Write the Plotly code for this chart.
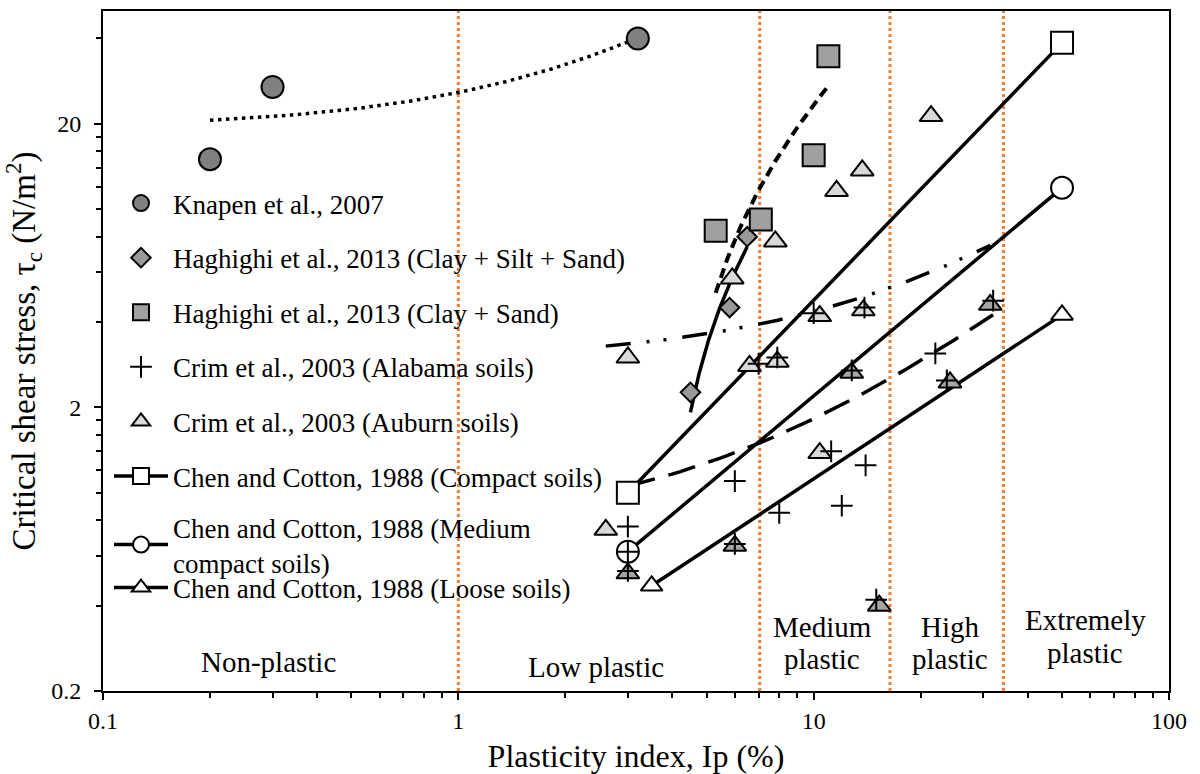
import numpy as np
import plotly.graph_objects as go

# ---------------- data ----------------
knapen_ip = [0.2, 0.3, 3.2]
knapen_tau = [15.0, 27.0, 40.0]

hag_css_ip = [4.5, 5.8, 6.5]          # Haghighi 2013 (Clay + Silt + Sand)
hag_css_tau = [2.26, 4.5, 8.0]

hag_cs_ip = [5.3, 7.1, 10.0, 11.0]    # Haghighi 2013 (Clay + Sand)
hag_cs_tau = [8.4, 9.2, 15.5, 34.6]

alabama_ip = [6.0, 3.0, 8.0, 12.0, 14.0, 11.2, 3.0, 3.0, 6.0, 15.0,
              10.0, 13.9, 7.9, 7.0, 12.8, 22.0, 32.0, 23.7]
alabama_tau = [1.1, 0.76, 0.85, 0.90, 1.25, 1.40, 0.62, 0.53, 0.66, 0.42,
               4.3, 4.5, 3.0, 2.85, 2.7, 3.1, 4.76, 2.49]

auburn_ip = [21.4, 13.7, 11.6, 7.8, 5.9, 3.0, 10.4, 13.8, 6.6, 7.9, 10.4, 2.6]
auburn_tau = [21.3, 13.7, 11.6, 7.7, 5.7, 3.0, 4.2, 4.4, 2.8, 2.9, 1.38, 0.74]
auburn_dark_ip = [12.8, 31.4, 24.2, 3.0, 6.0, 15.3]
auburn_dark_tau = [2.65, 4.6, 2.45, 0.52, 0.65, 0.40]

chen_compact_ip = [3.0, 50.0]
chen_compact_tau = [1.0, 38.6]
chen_medium_ip = [3.0, 50.0]
chen_medium_tau = [0.62, 11.9]
chen_loose_ip = [3.5, 50.0]
chen_loose_tau = [0.47, 4.24]

# linear trend lines (slope, intercept, ip_from, ip_to) as drawn in the reference
trend_knapen = [6.54, 19.27, 0.2, 3.2]
trend_hag_css = [2.725, -10.34, 4.5, 6.5]
trend_hag_cs = [3.888, -15.54, 5.3, 11.0]
trend_alabama = [0.110, 0.724, 3.0, 32.0]
trend_auburn = [0.1446, 2.914, 2.6, 31.4]

plasticity_bounds = [1, 7.05, 16.4, 34.2]
zone_labels = [["Non-plastic"], ["Low plastic"], ["Medium", "plastic"],
               ["High", "plastic"], ["Extremely", "plastic"]]

x_ticks = [0.1, 1, 10, 100]
y_ticks = [0.2, 2, 20]

# ---------------- geometry helpers ----------------
W, H = 1200, 774
L, R, T, B = 103, 1169, 11, 691


def px_x(p):
    return (p - L) / (R - L)


def px_y(p):
    return (B - p) / (B - T)


FONT = "Liberation Serif, Times New Roman, serif"
fig = go.Figure()


def trend(coef):
    a, b, x0, x1 = coef
    xs = np.linspace(x0, x1, 120)
    return xs, a * xs + b


# trend lines (no legend)
for coef, dash, w in [
    (trend_knapen, "3.5px,4.5px", 3.5),
    (trend_hag_css, "solid", 3.5),
    (trend_hag_cs, "10px,6px", 4),
    (trend_alabama, "28px,14px", 3.5),
    (trend_auburn, "25px,16px,3px,14px,3px,16px", 3.5),
]:
    xs, ys = trend(coef)
    fig.add_trace(go.Scatter(x=xs, y=ys, mode="lines", showlegend=False,
                             line=dict(color="black", width=w, dash=dash),
                             hoverinfo="skip"))

# Chen and Cotton lines
ln = dict(color="black", width=3.5)
fig.add_trace(go.Scatter(x=chen_compact_ip, y=chen_compact_tau, mode="lines+markers",
                         name="Chen and Cotton, 1988 (Compact soils)", legendgroup="g6", legendrank=6,
                         line=ln, marker=dict(symbol="square", size=22, color="white",
                                              line=dict(color="black", width=2))))
fig.add_trace(go.Scatter(x=chen_medium_ip, y=chen_medium_tau, mode="lines+markers",
                         name="Chen and Cotton, 1988 (Medium<br>compact soils)", legend="legend2",
                         line=ln, marker=dict(symbol="circle", size=22, color="white",
                                              line=dict(color="black", width=2))))
fig.add_trace(go.Scatter(x=chen_loose_ip, y=chen_loose_tau, mode="lines+markers",
                         name="Chen and Cotton, 1988 (Loose soils)", legend="legend3",
                         line=ln, marker=dict(symbol="triangle-up", size=19, color="white",
                                              line=dict(color="black", width=2))))

# scatter data
fig.add_trace(go.Scatter(x=knapen_ip, y=knapen_tau, mode="markers", name="Knapen et al., 2007",
                         legendgroup="g1", legendrank=1,
                         marker=dict(symbol="circle", size=22, color="#808080",
                                     line=dict(color="black", width=2))))
fig.add_trace(go.Scatter(x=hag_css_ip, y=hag_css_tau, mode="markers",
                         name="Haghighi et al., 2013 (Clay + Silt + Sand)", legendgroup="g2", legendrank=2,
                         marker=dict(symbol="diamond", size=15, color="#999999",
                                     line=dict(color="black", width=2))))
fig.add_trace(go.Scatter(x=hag_cs_ip, y=hag_cs_tau, mode="markers",
                         name="Haghighi et al., 2013 (Clay + Sand)", legendgroup="g3", legendrank=3,
                         marker=dict(symbol="square", size=22, color="#A0A0A0",
                                     line=dict(color="black", width=2))))
fig.add_trace(go.Scatter(x=auburn_dark_ip, y=auburn_dark_tau, mode="markers", showlegend=False,
                         marker=dict(symbol="triangle-up", size=20, color="#A6A6A6",
                                     line=dict(color="black", width=2))))
fig.add_trace(go.Scatter(x=auburn_ip, y=auburn_tau, mode="markers",
                         name="Crim et al., 2003 (Auburn soils)", legendgroup="g5", legendrank=5,
                         marker=dict(symbol="triangle-up", size=20, color="#D9D9D9",
                                     line=dict(color="black", width=2))))
fig.add_trace(go.Scatter(x=alabama_ip, y=alabama_tau, mode="markers",
                         name="Crim et al., 2003 (Alabama soils)", legendgroup="g4", legendrank=4,
                         marker=dict(symbol="cross-thin", size=15.5, color="black",
                                     line=dict(color="black", width=2))))

# plasticity class boundaries
for xb in plasticity_bounds:
    fig.add_shape(type="line", xref="x", yref="paper", x0=xb, x1=xb, y0=0, y1=1,
                  line=dict(color="#ED7D31", width=3, dash="3px,3px"), layer="below")

# zone labels (one annotation per text line)
zone_pos = [[(268, 662)], [(596, 667)], [(822, 627), (822, 659)],
            [(950, 627), (950, 659)], [(1085, 620), (1085, 653)]]
for lines, poss in zip(zone_labels, zone_pos):
    for txt, (px, py) in zip(lines, poss):
        fig.add_annotation(x=px_x(px), y=px_y(py), xref="paper", yref="paper", text=txt,
                           showarrow=False, font=dict(size=29, family=FONT, color="black"),
                           xanchor="center", yanchor="middle")

minor_x = [k * 10.0 ** e for e in (-1, 0, 1) for k in range(2, 10)]
minor_y = [k * 0.2 * 10 ** e for e in (0, 1) for k in range(2, 10)] + [40]

axis_common = dict(type="log", showline=True, linecolor="black", linewidth=2, mirror=True,
                   ticks="outside", ticklen=7, tickwidth=2, tickcolor="black",
                   showgrid=False, zeroline=False, automargin=False,
                   tickfont=dict(size=24, family=FONT, color="black"))

leg_common = dict(xanchor="left", bgcolor="rgba(0,0,0,0)",
                  font=dict(size=27, family=FONT, color="black"),
                  itemsizing="trace", itemwidth=54)

fig.update_layout(
    width=W, height=H,
    margin=dict(l=L, r=W - R, t=T, b=H - B, pad=0, autoexpand=False),
    plot_bgcolor="white", paper_bgcolor="white",
    font=dict(family=FONT, color="black"),
    xaxis=dict(**axis_common, range=[-1, 2], tickvals=x_ticks, ticktext=[str(v) for v in x_ticks],
               minor=dict(ticks="outside", ticklen=5, tickwidth=2, tickcolor="black", tickvals=minor_x),
               title=dict(text="Plasticity index, Ip (%)", font=dict(size=32, family=FONT), standoff=14)),
    yaxis=dict(**axis_common, range=[np.log10(0.2), np.log10(50)], tickvals=y_ticks,
               ticktext=[str(v) for v in y_ticks], ticklabelstandoff=8,
               minor=dict(ticks="outside", ticklen=5, tickwidth=2, tickcolor="black", tickvals=minor_y),
               title=dict(text="Critical shear stress, τ<sub>c</sub> (N/m<sup>2</sup>)",
                          font=dict(size=33, family=FONT), standoff=6)),
    legend=dict(**leg_common, x=px_x(109), y=px_y(179), yanchor="top", tracegroupgap=16.5),
    legend2=dict(**leg_common, x=px_x(109), y=px_y(545), yanchor="middle"),
    legend3=dict(**leg_common, x=px_x(109), y=px_y(588), yanchor="middle"),
    showlegend=True,
)

fig.write_html("out.html")
